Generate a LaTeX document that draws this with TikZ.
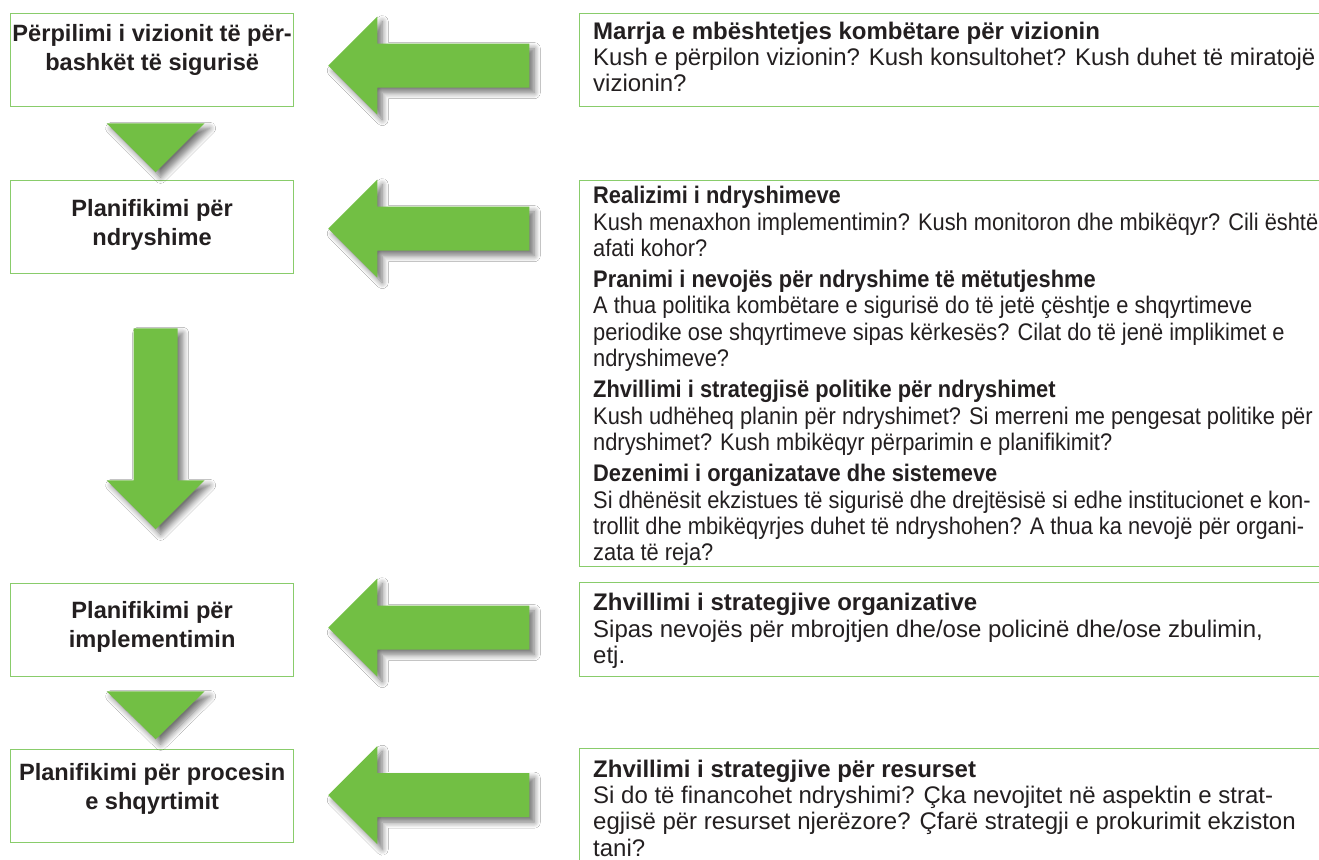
\documentclass[tikz,border=0pt]{standalone}
\usepackage{fontspec}
\setmainfont{Liberation Sans}
\newfontfamily\ngushte[FakeStretch=0.91]{Liberation Sans}
\usepackage{tikz}
\usetikzlibrary{calc,shadows.blur}
\definecolor{gjelber}{RGB}{114,191,68}
\definecolor{korniza}{RGB}{137,204,107}
\definecolor{teksti}{RGB}{35,31,32}

\begin{document}
\begin{tikzpicture}[x=1pt, y=-1pt,
    hapi/.style={draw=korniza, line width=1.3pt, minimum width=283pt,
      minimum height=93pt, anchor=north west, inner sep=0pt},
    kutia/.style={draw=korniza, line width=1.3pt, minimum width=770pt,
      anchor=north west, inner sep=0pt},
    titulli/.style={anchor=north, inner sep=0pt, align=center, text=teksti,
      font=\bfseries\fontsize{23.6}{29}\selectfont},
    pershkrimi/.style={anchor=north west, inner sep=0pt, align=left,
      text=teksti, font=\fontsize{24}{26.3}\selectfont},
    shigjeta/.style={fill=gjelber, blur shadow={shadow xshift=5pt,
      shadow yshift=-5pt, shadow blur radius=6pt, shadow blur steps=8,
      shadow opacity=55}}]
      \useasboundingbox (0,0) rectangle (1319,859);
      \fill[white] (0,0) rectangle (1319,859);
      % Steps on the left
      \node[hapi] (vizioni) at (10,13) {};
      \node[hapi] (ndryshime) at (10,180) {};
      \node[hapi] (implement) at (10,583) {};
      \node[hapi] (shqyrtim) at (10,749) {};
      \node[titulli] (vizioni-t) at ($(vizioni.north)+(0,9.7)$)
      {\rule{0pt}{19pt}Përpilimi i vizionit të për-\\bashkët të sigurisë};
      \node[titulli] (ndryshime-t) at ($(ndryshime.north)+(0,17.7)$)
      {\rule{0pt}{19pt}Planifikimi për\\ndryshime};
      \node[titulli] (implement-t) at ($(implement.north)+(0,16)$)
      {\rule{0pt}{19pt}Planifikimi për\\implementimin};
      \node[titulli] (shqyrtim-t) at ($(shqyrtim.north)+(0,12.7)$)
      {\rule{0pt}{19pt}Planifikimi për procesin\\e shqyrtimit};
      % Boxes on the right
      \node[kutia, minimum height=93pt] (mbeshtetja) at (579,13) {};
      \node[kutia, minimum height=386pt] (realizimi) at (579,180) {};
      \node[kutia, minimum height=94pt] (organizimi) at (579,582) {};
      \node[kutia, minimum height=140pt] (resurset) at (579,748) {};
      \node[pershkrimi] (mbeshtetja-t) at ($(mbeshtetja.north west)+(14,7)$)
      {\rule{0pt}{19pt}\textbf{Marrja e mbështetjes kombëtare për vizionin}\\
        Kush e përpilon vizionin? Kush konsultohet? Kush duhet të miratojë\\
        vizionin?};
      \node[pershkrimi, font=\ngushte\fontsize{24}{26.3}\selectfont] (realizimi-t)
      at ($(realizimi.north west)+(14,4.5)$)
      {\rule{0pt}{19pt}\textbf{Realizimi i ndryshimeve}\\
        Kush menaxhon implementimin? Kush monitoron dhe mbikëqyr? Cili është\\
        afati kohor?\\[5pt]
        \textbf{Pranimi i nevojës për ndryshime të mëtutjeshme}\\
        A thua politika kombëtare e sigurisë do të jetë çështje e shqyrtimeve\\
        periodike ose shqyrtimeve sipas kërkesës? Cilat do të jenë implikimet e\\
        ndryshimeve?\\[5pt]
        \textbf{Zhvillimi i strategjisë politike për ndryshimet}\\
        Kush udhëheq planin për ndryshimet? Si merreni me pengesat politike për\\
        ndryshimet? Kush mbikëqyr përparimin e planifikimit?\\[5pt]
        \textbf{Dezenimi i organizatave dhe sistemeve}\\
        Si dhënësit ekzistues të sigurisë dhe drejtësisë si edhe institucionet e kon-\\
        trollit dhe mbikëqyrjes duhet të ndryshohen? A thua ka nevojë për organi-\\
        zata të reja?};
      \node[pershkrimi] (organizimi-t) at ($(organizimi.north west)+(14,9.5)$)
      {\rule{0pt}{19pt}\textbf{Zhvillimi i strategjive organizative}\\
        Sipas nevojës për mbrojtjen dhe/ose policinë dhe/ose zbulimin,\\
        etj.};
      \node[pershkrimi] (resurset-t) at ($(resurset.north west)+(14,10)$)
      {\rule{0pt}{19pt}\textbf{Zhvillimi i strategjive për resurset}\\
        Si do të financohet ndryshimi? Çka nevojitet në aspektin e strat-\\
        egjisë për resurset njerëzore? Çfarë strategji e prokurimit ekziston\\
        tani?};
      % Arrows pointing left
      \foreach \b/\dy in {vizioni/5.5, ndryshime/1.5, implement/-2.5, shqyrtim/-1}
        \fill[shigjeta] ($(\b.east)+(34,\dy)$) -- ++(49,-49) -- ++(0,27)
        -- ++(152,0) -- ++(0,44) -- ++(-152,0) -- ++(0,27) -- cycle;
      % Arrows pointing down
      \fill[shigjeta] ($(vizioni.south)+(-45.5,16)$) -- ++(98,0)
      -- ++(-49,49) -- cycle;
      \fill[shigjeta] ($(ndryshime.south)+(-18.5,54)$) -- ++(44,0)
      -- ++(0,152) -- ++(27,0) -- ++(-49,49) -- ++(-49,-49) -- ++(27,0) -- cycle;
      \fill[shigjeta] ($(implement.south)+(-45.5,14)$) -- ++(98,0)
      -- ++(-49,48) -- cycle;
    \end{tikzpicture}
\end{document}
